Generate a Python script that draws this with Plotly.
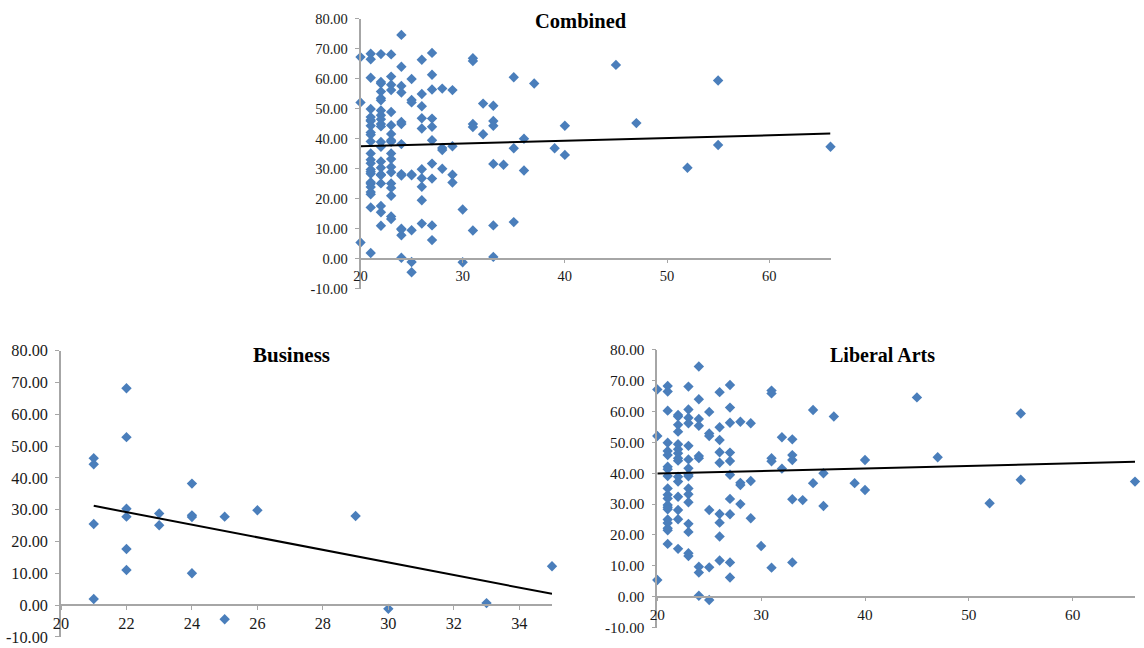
import plotly.graph_objects as go

# ---------------- data ----------------
business_x = [21, 21, 21, 21,
              22, 22, 22, 22, 22, 22,
              23, 23,
              24, 24, 24, 24,
              25, 25,
              26, 29, 30, 33, 35]
business_y = [46.2, 44.3, 25.5, 1.9,
              68.2, 52.8, 30.3, 27.8, 17.6, 11.0,
              28.8, 25.1,
              38.2, 28.2, 27.7, 10.0,
              27.8, -4.5,
              29.8, 28.0, -1.2, 0.6, 12.2]

la_x = ([20] * 3 + [21] * 20 + [22] * 15 + [23] * 16 + [24] * 9 + [25] * 6 +
        [26] * 9 + [27] * 10 + [28] * 4 + [29] * 3 + [30] + [31] * 5 + [32] * 2 +
        [33] * 5 + [34] + [35] * 2 + [36] * 2 + [37] + [39] + [40] * 2 + [45] +
        [47] + [52] + [55] * 2 + [66])
la_y = [67.2, 52.1, 5.4,
        68.3, 66.5, 60.3, 49.9, 47.2, 45.9, 42.1, 41.3, 39.1, 35.1, 33.0, 31.8,
        29.7, 29.0, 28.3, 25.0, 23.9, 22.2, 21.5, 17.1,
        58.9, 58.4, 55.7, 53.5, 49.4, 47.8, 46.5, 44.9, 44.1, 38.9, 37.3, 32.4,
        28.1, 25.1, 15.5,
        68.1, 60.7, 58.0, 56.2, 48.9, 44.5, 41.6, 39.5, 39.0, 35.1, 33.2, 30.6,
        23.6, 21.0, 14.1, 13.2,
        74.6, 64.0, 57.6, 55.4, 45.6, 44.9, 9.7, 7.8, 0.3,
        59.9, 52.9, 52.1, 28.1, 9.5, -1.1,
        66.3, 54.9, 50.8, 46.8, 43.4, 26.8, 24.0, 19.5, 11.7,
        68.6, 61.3, 56.4, 46.7, 44.0, 39.5, 31.7, 26.7, 11.1, 6.2,
        56.7, 36.9, 36.2, 30.0,
        56.2, 37.5, 25.4,
        16.4,
        66.8, 65.9, 44.9, 43.9, 9.4,
        51.7, 41.5,
        51.0, 45.9, 44.3, 31.6, 11.1,
        31.3,
        60.5, 36.8,
        40.0, 29.4,
        58.4,
        36.8,
        44.3, 34.6,
        64.6,
        45.2,
        30.3,
        59.4, 37.9,
        37.3]

combined_x = la_x + business_x
combined_y = la_y + business_y

# linear trendline values at first and last x
combined_trend_x = [20, 66]
combined_trend_y = [37.5, 41.7]
business_trend_x = [21, 35]
business_trend_y = [31.2, 3.5]
la_trend_x = [20, 66]
la_trend_y = [39.9, 43.7]

titles = ["Combined", "Business", "Liberal Arts"]
y_ticks = [-10, 0, 10, 20, 30, 40, 50, 60, 70, 80]
y_ticklabels = ["%.2f" % v for v in y_ticks]
wide_x_ticks = [20, 30, 40, 50, 60]
business_x_ticks = [20, 22, 24, 26, 28, 30, 32, 34]

# ---------------- style ----------------
W, H = 1144, 648
MARKER = "#4A7EBB"
AXIS = "#A6A6A6"
FONT = "Liberation Serif"
TEXT = "#1a1a1a"


def px_dom(a, b, total):
    return [a / total, b / total]


def py_dom(top, bottom):
    return [1 - bottom / H, 1 - top / H]


panels = [
    # (xs, ys, trend x, trend y, x-range, x-ticks, x pixel span, y pixel span (80 .. -10))
    (combined_x, combined_y, combined_trend_x, combined_trend_y, [20, 66], wide_x_ticks,
     (360.5, 830.5), (18.7, 288.7)),
    (business_x, business_y, business_trend_x, business_trend_y, [20, 35], business_x_ticks,
     (61, 552), (350.7, 636.8)),
    (la_x, la_y, la_trend_x, la_trend_y, [20, 66], wide_x_ticks,
     (657.3, 1135), (349.9, 627.5)),
]
title_pos = [(581, 21.5), (291, 355), (882, 355)]
title_size = [20.5, 21, 20]
tick_size = [14.5, 16.3, 15.3]

fig = go.Figure()
layout = dict(width=W, height=H, margin=dict(l=0, r=0, t=0, b=0, autoexpand=False),
              paper_bgcolor="white", plot_bgcolor="white", showlegend=False,
              font=dict(family=FONT, color=TEXT, size=15))
annotations = []

for i, (xs, ys, tx_, ty_, xr, xt, (x0, x1), (y0, y1)) in enumerate(panels):
    n = "" if i == 0 else str(i + 1)
    xa, ya = "x" + n, "y" + n
    fig.add_trace(go.Scatter(x=xs, y=ys, mode="markers", xaxis=xa, yaxis=ya,
                             cliponaxis=False,
                             marker=dict(symbol="diamond", size=8, color=MARKER,
                                         line=dict(width=0))))
    fig.add_trace(go.Scatter(x=tx_, y=ty_, mode="lines", xaxis=xa, yaxis=ya,
                             line=dict(color="black", width=2)))
    ydom = py_dom(y0, y1)
    zero_frac = ydom[0] + (ydom[1] - ydom[0]) * (0 - (-10)) / 90.0
    layout["xaxis" + n] = dict(domain=px_dom(x0, x1, W), range=xr, anchor="free",
                               position=zero_frac, tickvals=xt,
                               ticktext=[str(v) for v in xt],
                               showline=True, linecolor=AXIS, linewidth=1.5,
                               ticks="outside", ticklen=4, tickcolor=AXIS,
                               showgrid=False, zeroline=False,
                               tickfont=dict(family=FONT, size=tick_size[i], color=TEXT))
    layout["yaxis" + n] = dict(domain=ydom, range=[-10, 80], anchor=xa,
                               tickvals=y_ticks, ticktext=y_ticklabels,
                               showline=True, linecolor=AXIS, linewidth=1.5,
                               ticks="outside", ticklen=4, tickcolor=AXIS,
                               ticklabelstandoff=4,
                               showgrid=False, zeroline=False,
                               tickfont=dict(family=FONT, size=tick_size[i], color=TEXT))
    tx, ty = title_pos[i]
    annotations.append(dict(text="<b>%s</b>" % titles[i], x=tx / W, y=1 - ty / H,
                            xref="paper", yref="paper", xanchor="center", yanchor="middle",
                            showarrow=False,
                            font=dict(family=FONT, size=title_size[i], color="black")))

layout["annotations"] = annotations
fig.update_layout(**layout)
fig.write_html("out.html", config={"responsive": False, "displayModeBar": False},
               post_script="document.body.style.margin='0';document.body.style.overflow='hidden';")
